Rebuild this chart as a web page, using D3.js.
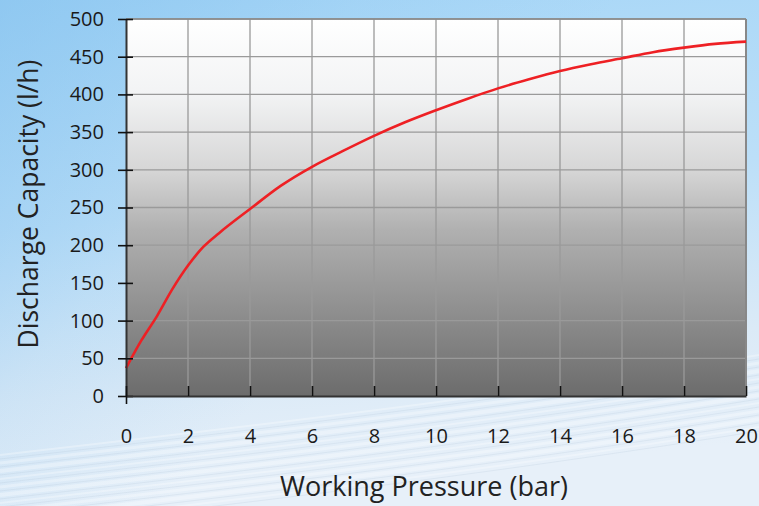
<!DOCTYPE html>
<html>
<head>
<meta charset="utf-8">
<script src="https://cdn.jsdelivr.net/npm/d3@7"></script>
<style>
  body { margin: 0; }
  svg { display: block; font-family: "Open Sans", sans-serif; }
</style>
</head>
<body>
<svg id="chart" width="759" height="506"></svg>
<script>
// pressure in bar, discharge in l/h
const pressure = [0, 0.5, 1, 1.5, 2, 2.5, 3, 4, 5, 6, 7, 8, 9, 10, 11, 12, 13, 14, 15, 16, 17, 18, 19, 20];
const discharge = [37, 74, 106, 142, 173, 198, 216, 248, 279, 304, 325, 345, 363, 379, 394, 408, 420, 431, 440, 448, 456, 462, 467, 470];
const xTicks = [0, 2, 4, 6, 8, 10, 12, 14, 16, 18, 20];
const yTicks = [0, 50, 100, 150, 200, 250, 300, 350, 400, 450, 500];

const svg = d3.select('#chart');
const W = 759, H = 506;
const m = { left: 126, right: 13, top: 19, bottom: 110 };
const iw = W - m.left - m.right, ih = H - m.top - m.bottom;

const defs = svg.append('defs');
const bg = defs.append('linearGradient').attr('id', 'bg').attr('x1', 0).attr('y1', 0).attr('x2', 0.15).attr('y2', 1);
bg.append('stop').attr('offset', '0%').attr('stop-color', '#a6d6f7');
bg.append('stop').attr('offset', '45%').attr('stop-color', '#bcdff8');
bg.append('stop').attr('offset', '78%').attr('stop-color', '#dbeaf7');
bg.append('stop').attr('offset', '100%').attr('stop-color', '#e7f0f9');
const side = defs.append('linearGradient').attr('id', 'side').attr('x1', 0).attr('y1', 0).attr('x2', 1).attr('y2', 0.6);
side.append('stop').attr('offset', '0%').attr('stop-color', '#7dbdec').attr('stop-opacity', 0.55);
side.append('stop').attr('offset', '35%').attr('stop-color', '#7dbdec').attr('stop-opacity', 0.15);
side.append('stop').attr('offset', '60%').attr('stop-color', '#7dbdec').attr('stop-opacity', 0);
const pg = defs.append('linearGradient').attr('id', 'plotbg').attr('x1', 0).attr('y1', 0).attr('x2', 0).attr('y2', 1);
pg.append('stop').attr('offset', '0%').attr('stop-color', '#ffffff');
pg.append('stop').attr('offset', '20%').attr('stop-color', '#f2f3f4');
pg.append('stop').attr('offset', '40%').attr('stop-color', '#d6d6d6');
pg.append('stop').attr('offset', '56%').attr('stop-color', '#b0b0b0');
pg.append('stop').attr('offset', '100%').attr('stop-color', '#6c6c6c');

svg.append('rect').attr('width', W).attr('height', H).attr('fill', 'url(#bg)');
svg.append('rect').attr('width', W).attr('height', H).attr('fill', 'url(#side)');

// soft waves in the background
const waves = svg.append('g').attr('fill', 'none');
for (let i = 0; i < 10; i++) {
  const y0 = 425 + i * 8;
  waves.append('path')
    .attr('d', `M0,${y0 + 30} C220,${y0 + 5} 480,${y0 - 25} 759,${y0 - 70}`)
    .attr('stroke', '#ffffff')
    .attr('stroke-width', 2 + (i % 3))
    .attr('opacity', 0.3);
  waves.append('path')
    .attr('d', `M0,${y0 + 34} C220,${y0 + 9} 480,${y0 - 21} 759,${y0 - 66}`)
    .attr('stroke', '#a9bfd4')
    .attr('stroke-width', 1)
    .attr('opacity', 0.2);
}

const x = d3.scaleLinear().domain([0, 20]).range([0, iw]);
const y = d3.scaleLinear().domain([0, 500]).range([ih, 0]);

const g = svg.append('g').attr('transform', `translate(${m.left},${m.top})`);
g.append('rect').attr('width', iw).attr('height', ih).attr('fill', 'url(#plotbg)');

// grid
g.append('g').selectAll('line').data(yTicks.slice(1)).enter().append('line')
  .attr('x1', 0).attr('x2', iw)
  .attr('y1', d => y(d)).attr('y2', d => y(d))
  .attr('stroke', '#9a9a9a').attr('stroke-width', 1.3);
g.append('g').selectAll('line').data(xTicks.slice(1)).enter().append('line')
  .attr('x1', d => x(d)).attr('x2', d => x(d))
  .attr('y1', 0).attr('y2', ih)
  .attr('stroke', '#9a9a9a').attr('stroke-width', 1.3);
g.append('line').attr('x1', iw).attr('x2', iw).attr('y1', 0).attr('y2', ih)
  .attr('stroke', '#888').attr('stroke-width', 2);
g.append('line').attr('x1', 0).attr('x2', iw).attr('y1', 0).attr('y2', 0)
  .attr('stroke', '#888').attr('stroke-width', 1.5);

// curve
const line = d3.line()
  .x((d, i) => x(pressure[i]))
  .y(d => y(d))
  .curve(d3.curveMonotoneX);
g.append('path').datum(discharge)
  .attr('d', line)
  .attr('fill', 'none')
  .attr('stroke', '#ee2024')
  .attr('stroke-width', 2.6);

// axes
const yAxis = g.append('g')
  .call(d3.axisLeft(y).tickValues(yTicks).tickSize(8).tickPadding(14).tickSizeOuter(0));
yAxis.selectAll('.tick line').attr('x2', -8).attr('x1', 7);
const xAxis = g.append('g').attr('transform', `translate(0,${ih})`)
  .call(d3.axisBottom(x).tickValues(xTicks).tickSize(0).tickPadding(33).tickSizeOuter(0));
xAxis.selectAll('.tick line').attr('y1', -10).attr('y2', d => d === 0 ? 8 : 0);
[yAxis, xAxis].forEach(a => {
  a.select('.domain').attr('stroke', '#333').attr('stroke-width', 2);
  a.selectAll('.tick line').attr('stroke', '#111').attr('stroke-width', 1.6);
  a.selectAll('.tick text').attr('font-size', 20).attr('fill', '#1a1a1a').attr('font-family', '"Open Sans", sans-serif');
});

// titles
svg.append('text')
  .attr('transform', 'translate(38,204) rotate(-90)')
  .attr('text-anchor', 'middle')
  .attr('font-size', 26.5)
  .attr('fill', '#222')
  .text('Discharge Capacity (l/h)');
svg.append('text')
  .attr('x', 424).attr('y', 496)
  .attr('text-anchor', 'middle')
  .attr('font-size', 27)
  .attr('fill', '#222')
  .text('Working Pressure (bar)');
</script>
</body>
</html>
